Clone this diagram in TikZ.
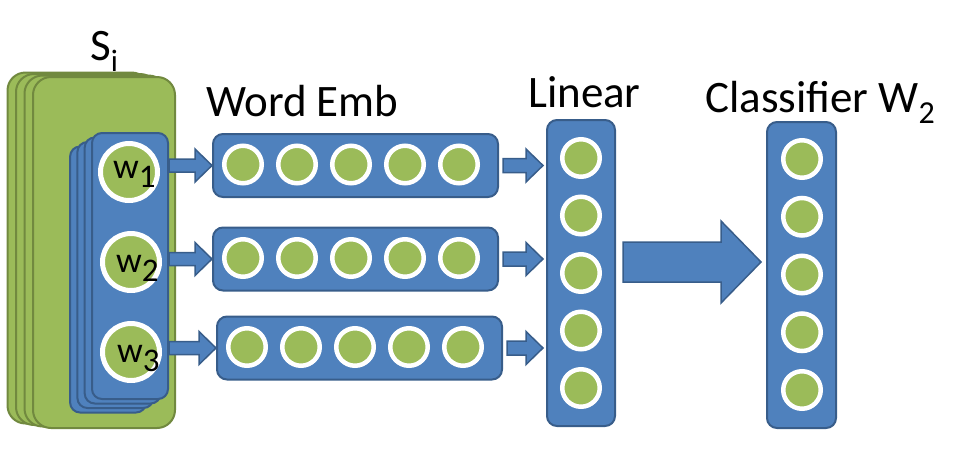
\documentclass[tikz,border=0pt]{standalone}
\usepackage{fontspec}
\setmainfont{Carlito}
\usetikzlibrary{calc,positioning}

\definecolor{embblue}{HTML}{4F81BD}
\definecolor{embblueline}{HTML}{385D8A}
\definecolor{leafgreen}{HTML}{9BBB59}
\definecolor{leafgreenline}{HTML}{71893F}

% lowered, smaller text for subscripts
\newcommand{\lowsub}[3]{\raisebox{-#1}{\fontsize{#2}{#2}\selectfont #3}}
% block arrow from #1 to #2: shaft half width, head half width, head length
\newcommand{\blockarrow}[5]{%
  \draw[blockarrow] let \p1=(#1), \p2=(#2) in
    (\x1,\y1+#3) -- (\x2-#5,\y1+#3) -- (\x2-#5,\y1+#4) -- (\x2,\y1)
    -- (\x2-#5,\y1-#4) -- (\x2-#5,\y1-#3) -- (\x1,\y1-#3) -- cycle;}

\begin{document}
\begin{tikzpicture}[x=1pt, y=-1pt,
    sentcard/.style={draw=leafgreenline, fill=leafgreen, line width=2pt, rounded corners=18pt,
      minimum width=142pt, minimum height=351pt, inner sep=0pt},
    wordcard/.style={draw=embblueline, fill=embblue, line width=2pt, rounded corners=10pt,
      minimum width=76pt, minimum height=266pt, inner sep=0pt},
    vecbox/.style={draw=embblueline, fill=embblue, line width=2pt, rounded corners=10pt, inner sep=0pt},
    unit/.style={circle, draw=white, fill=leafgreen, line width=4.5pt, minimum size=37.5pt, inner sep=0pt},
    wordunit/.style={unit, line width=5pt, minimum size=57pt},
    title/.style={anchor=base west, inner sep=0pt, font=\fontsize{45}{45}\selectfont},
    wlabel/.style={anchor=base west, inner sep=0pt, font=\fontsize{36}{36}\selectfont},
    blockarrow/.style={draw=embblueline, fill=embblue, line width=1.5pt}]

    \useasboundingbox (0,0) rectangle (954,467);

    % Sentence stack
    \foreach \k in {3,2,1,0}
        \node[sentcard] (s\k) at ({104-8.5*\k},{252.5-1.5*\k}) {};

    % Word stack
    \foreach \k in {3,2,1,0}
        \node[wordcard] (c\k) at ({130-7.3*\k},{266+4.5*\k}) {};

    % Words
    \foreach \i/\x/\y/\lx/\b in {1/129/172/113/178, 2/131/262/116/272, 3/131/352/117/362} {
        \node[wordunit] (w\i) at (\x,\y) {};
        \node[wlabel] (wl\i) at (\lx,\b) {w\lowsub{9pt}{33}{\i}};
    }

    % Word embeddings
    \foreach \r/\lx/\y in {1/212/165.5, 2/212/259, 3/216/348} {
        \node[vecbox, minimum width=285pt, minimum height=63pt, anchor=west] (emb\r) at (\lx,\y) {};
        \foreach \j in {1,...,5}
            \node[unit] (emb\r-\j) at ({\lx+31+54*(\j-1)},{\y-1}) {};
    }

    % Linear layer
    \node[vecbox, minimum width=68pt, minimum height=306pt] (lin) at (581,273) {};
    \foreach \j in {1,...,5}
        \node[unit] (lin-\j) at (581,{158+57.5*(\j-1)}) {};

    % Classifier
    \node[vecbox, minimum width=69pt, minimum height=306pt] (cls) at (801.5,275) {};
    \foreach \j in {1,...,5}
        \node[unit] (cls-\j) at (802,{159+57.75*(\j-1)}) {};

    % Arrows
    \foreach \r in {1,2,3} {
        \blockarrow{c0.east |- emb\r}{emb\r.west}{6.5pt}{16.5pt}{17pt}
        \blockarrow{[xshift=4pt]emb\r.east}{[xshift=-3pt]lin.west}{7pt}{16.5pt}{17pt}
    }
    \blockarrow{$(lin.east)+(7,-11)$}{[xshift=-5pt]cls.west}{20pt}{41pt}{40pt}

    % Titles
    \node[title] (stitle) at (90,60) {S\lowsub{11pt}{31}{i}};
    \node[title] (embtitle) at (206,116) {Word Emb};
    \node[title] (lintitle) at (528,107) {Linear};
    \node[title] (clstitle) at (705,112) {Classifier W\lowsub{11pt}{32}{2}};

\end{tikzpicture}
\end{document}
